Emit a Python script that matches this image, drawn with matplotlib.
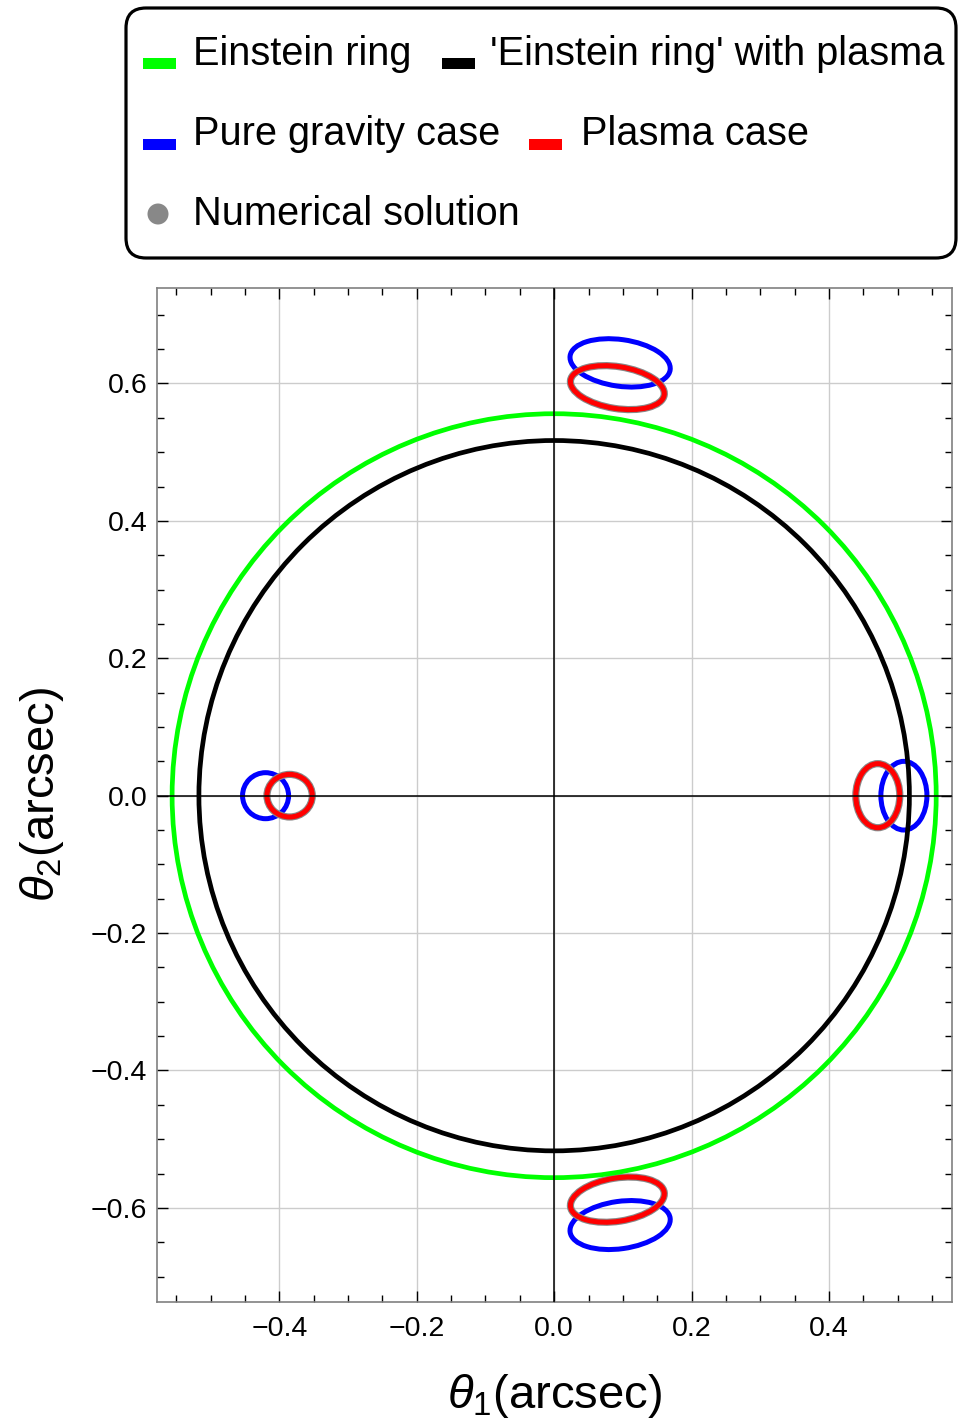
import numpy as np
import matplotlib
matplotlib.use("Agg")
import matplotlib.pyplot as plt
from matplotlib.patches import Ellipse, Circle, FancyBboxPatch, Rectangle
from matplotlib.ticker import MultipleLocator, FuncFormatter

plt.rcParams['font.family'] = ['Liberation Sans', 'DejaVu Sans']
plt.rcParams['mathtext.fontset'] = 'custom'
plt.rcParams['mathtext.it'] = 'Liberation Sans:italic'
plt.rcParams['mathtext.rm'] = 'Liberation Sans'

# ---- data (arcsec) ----
einstein_radius = 0.556
plasma_ring_radius = 0.517

# image ellipses: center x, center y, semi-axis along x (before rotation), semi-axis along y, rotation (deg)
gravity_cx = [0.096, 0.096, -0.420, 0.509]
gravity_cy = [0.630, -0.625, 0.000, 0.000]
gravity_ax = [0.0735, 0.0735, 0.0335, 0.0335]
gravity_ay = [0.0340, 0.0345, 0.0335, 0.0500]
gravity_ang = [-8.0, 8.0, 0.0, 0.0]

plasma_cx = [0.092, 0.092, -0.385, 0.471]
plasma_cy = [0.594, -0.588, 0.000, 0.000]
plasma_ax = [0.0690, 0.0690, 0.0330, 0.0320]
plasma_ay = [0.0305, 0.0315, 0.0310, 0.0466]
plasma_ang = [-9.0, 9.0, 0.0, 0.0]

xticks = [-0.4, -0.2, 0.0, 0.2, 0.4]
yticks = [-0.6, -0.4, -0.2, 0.0, 0.2, 0.4, 0.6]

legend_labels = ["Einstein ring", "'Einstein ring' with plasma",
                 "Pure gravity case", "Plasma case", "Numerical solution"]

GREEN = '#00ff00'
BLUE = '#0000ff'
RED = '#ff0000'
GRAY = '#888888'

W, H = 958, 1426
fig = plt.figure(figsize=(W / 100, H / 100), dpi=100)

L, R, T, B = 157, 952, 288, 1302
ax = fig.add_axes([L / W, 1 - B / H, (R - L) / W, (B - T) / H])
ax.set_xlim(-0.578, 0.579)
ax.set_ylim(-0.737, 0.739)

ax.set_xticks(xticks)
ax.set_yticks(yticks)
ax.xaxis.set_minor_locator(MultipleLocator(0.05))
ax.yaxis.set_minor_locator(MultipleLocator(0.05))
fmt = FuncFormatter(lambda v, p: f"{v:.1f}".replace('-', '\u2212') if abs(v) > 1e-9 else "0.0")
ax.xaxis.set_major_formatter(fmt)
ax.yaxis.set_major_formatter(fmt)
ax.tick_params(which='both', direction='in', top=True, right=True, color='black')
ax.tick_params(axis='y', which='major', length=8, width=1.0, labelsize=20.5, pad=7)
ax.tick_params(axis='x', which='major', length=8, width=1.0, labelsize=20.5, pad=10)
ax.tick_params(which='minor', length=5, width=1.0)
for s in ax.spines.values():
    s.set_color('#808080')
    s.set_linewidth(1.2)

ax.grid(True, which='major', color='#cccccc', lw=1.0, zorder=0)
ax.set_axisbelow(True)

# images: pure gravity
for cx, cy, a, b, ang in zip(gravity_cx, gravity_cy, gravity_ax, gravity_ay, gravity_ang):
    ax.add_patch(Ellipse((cx, cy), 2 * a, 2 * b, angle=ang, fill=False,
                         ec=BLUE, lw=3.6, zorder=3))
# images: plasma (numerical solution underneath as gray)
for cx, cy, a, b, ang in zip(plasma_cx, plasma_cy, plasma_ax, plasma_ay, plasma_ang):
    ax.add_patch(Ellipse((cx, cy), 2 * a, 2 * b, angle=ang, fill=False,
                         ec=GRAY, lw=5.2, zorder=4))
    ax.add_patch(Ellipse((cx, cy), 2 * a, 2 * b, angle=ang, fill=False,
                         ec=RED, lw=3.6, zorder=5))

# rings
ax.add_patch(Circle((0, 0), einstein_radius, fill=False, ec=GREEN, lw=3.4, zorder=6))
ax.add_patch(Circle((0, 0), plasma_ring_radius, fill=False, ec='black', lw=3.4, zorder=6))

# axes lines
ax.axhline(0, color='black', lw=1.1, zorder=8)
ax.axvline(0, color='black', lw=1.1, zorder=8)

ax.set_xlabel(r'$\theta_1$(arcsec)', fontsize=34, labelpad=22)
ax.set_ylabel(r'$\theta_2$(arcsec)', fontsize=34, labelpad=18)

# ---- legend (manual, Mathematica-style flow layout) ----
tr = fig.dpi_scale_trans


def px(x, y):
    return x / 100, (H - y) / 100


x0, y0 = px(126, 258)
fig.patches.append(FancyBboxPatch((x0, y0), (956 - 126) / 100, (258 - 8) / 100,
                                  boxstyle="round,pad=0,rounding_size=0.2",
                                  transform=tr, fc='white', ec='black', lw=2.3,
                                  figure=fig))


def handle(x1, x2, ytop, ybot, color):
    xa, yb = px(x1, ybot)
    fig.patches.append(Rectangle((xa, yb), (x2 - x1) / 100, (ybot - ytop) / 100,
                                 transform=tr, fc=color, ec='none', figure=fig))


def label(x, ybase, s):
    xa, ya = px(x, ybase)
    fig.text(xa, ya, s, transform=tr, fontsize=28.6, va='baseline', ha='left')


handle(143, 176, 58, 69, GREEN)
label(193, 65, legend_labels[0])
handle(442, 475, 58, 69, 'black')
label(490, 65, legend_labels[1])
handle(143, 176, 139, 150, BLUE)
label(193, 145, legend_labels[2])
handle(529, 562, 139, 150, RED)
label(581, 145, legend_labels[3])
cxd, cyd = px(158, 214)
fig.patches.append(Circle((cxd, cyd), 0.105, transform=tr, fc=GRAY, ec='none', figure=fig))
label(193, 225, legend_labels[4])

fig.savefig('out.png', dpi=100)
